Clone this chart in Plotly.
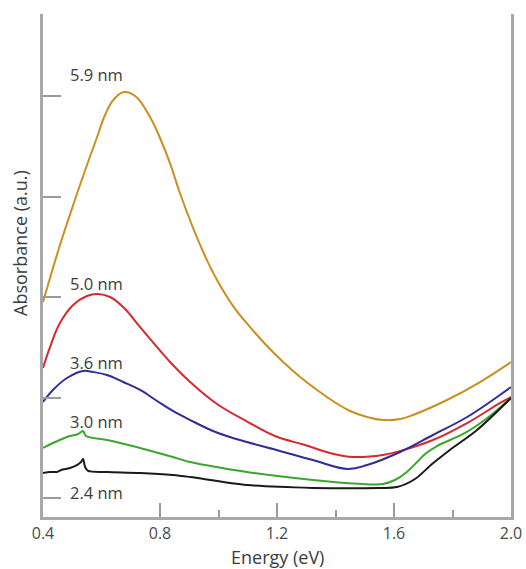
import plotly.graph_objects as go

# ---- data ----
E_59 = [0.400, 0.414, 0.458, 0.509, 0.554, 0.585, 0.612, 0.643, 0.677, 0.715, 0.766, 0.800, 0.834, 0.868, 0.913,
        0.954, 0.995, 1.050, 1.108, 1.166, 1.221, 1.279, 1.337, 1.391, 1.450, 1.508, 1.562, 1.621, 1.665, 1.781,
        1.894, 2.000]
A_59 = [1.950, 2.090, 2.517, 2.965, 3.343, 3.592, 3.811, 3.970, 4.040, 4.000, 3.791, 3.582, 3.333, 3.035, 2.687,
        2.408, 2.169, 1.910, 1.701, 1.512, 1.353, 1.204, 1.075, 0.965, 0.866, 0.806, 0.776, 0.786, 0.826, 0.975,
        1.154, 1.353]

E_50 = [0.400, 0.424, 0.458, 0.503, 0.550, 0.588, 0.629, 0.674, 0.732, 0.790, 0.844, 0.903, 0.995, 1.101, 1.193,
        1.296, 1.381, 1.460, 1.562, 1.621, 1.733, 1.850, 1.962, 2.000]
A_50 = [1.294, 1.502, 1.741, 1.920, 2.010, 2.030, 2.000, 1.900, 1.701, 1.502, 1.323, 1.154, 0.935, 0.756, 0.617,
        0.527, 0.448, 0.408, 0.428, 0.468, 0.577, 0.746, 0.945, 1.005]

E_36 = [0.400, 0.434, 0.482, 0.537, 0.571, 0.619, 0.674, 0.732, 0.790, 0.844, 0.903, 0.981, 1.039, 1.097, 1.210,
        1.323, 1.443, 1.508, 1.621, 1.733, 1.850, 1.962, 2.000]
A_36 = [0.955, 1.075, 1.194, 1.264, 1.254, 1.224, 1.154, 1.075, 0.965, 0.866, 0.776, 0.667, 0.607, 0.557, 0.468,
        0.378, 0.289, 0.328, 0.458, 0.627, 0.806, 1.025, 1.104]

E_30 = [0.400, 0.434, 0.482, 0.520, 0.537, 0.547, 0.619, 0.732, 0.844, 0.903, 1.097, 1.323, 1.494, 1.562, 1.603,
        1.644, 1.679, 1.706, 1.747, 1.843, 1.928, 2.000]
A_30 = [0.498, 0.547, 0.607, 0.637, 0.667, 0.617, 0.577, 0.498, 0.408, 0.358, 0.259, 0.179, 0.139, 0.139, 0.179,
        0.259, 0.358, 0.438, 0.517, 0.647, 0.816, 0.995]

E_24 = [0.400, 0.424, 0.448, 0.462, 0.492, 0.516, 0.530, 0.537, 0.544, 0.554, 0.619, 0.732, 0.844, 0.903, 1.097,
        1.323, 1.552, 1.610, 1.672, 1.730, 1.791, 1.884, 2.000]
A_24 = [0.249, 0.259, 0.259, 0.279, 0.299, 0.328, 0.358, 0.388, 0.308, 0.269, 0.259, 0.249, 0.229, 0.209, 0.129,
        0.100, 0.100, 0.109, 0.189, 0.338, 0.478, 0.677, 0.995]

series = [
    ("5.9 nm", E_59, A_59, "#C8911F", 1.2),
    ("5.0 nm", E_50, A_50, "#D42A30", 1.2),
    ("3.6 nm", E_36, A_36, "#2F2E99", 1.1),
    ("3.0 nm", E_30, A_30, "#3CA52D", 0.8),
    ("2.4 nm", E_24, A_24, "#1A1A1A", 0.8),
]

# label anchors (energy, absorbance) - left edge of each label
label_E = [0.4855, 0.4855, 0.4855, 0.4855, 0.4855]
label_A = [4.219, 2.139, 1.353, 0.766, 0.050]

x_ticks = [0.4, 0.8, 1.2, 1.6, 2.0]
x_labels = ["0.4", "0.8", "1.2", "1.6", "2.0"]
x_minor = [1.0, 1.4, 1.8]
y_ticks = [0, 1, 2, 3, 4]

FONT = "Open Sans, sans-serif"
TXT = "#3c3c3c"

fig = go.Figure()
for name, xs, ys, col, sm in series:
    fig.add_trace(go.Scatter(x=xs, y=ys, mode="lines", name=name,
                             line=dict(color=col, width=2, shape="spline", smoothing=sm),
                             hoverinfo="skip"))

for (name, *_), lx, ly in zip(series, label_E, label_A):
    fig.add_annotation(x=lx, y=ly, text=name, showarrow=False, xanchor="left", yanchor="middle",
                       font=dict(family=FONT, size=16.5, color=TXT))

fig.add_annotation(x=0.5, y=-0.0795, xref="paper", yref="paper", text="Energy (eV)", showarrow=False,
                   xanchor="center", yanchor="middle",
                   font=dict(family=FONT, size=18, color=TXT))
fig.add_annotation(x=-0.049, y=0.545, xref="paper", yref="paper", text="Absorbance (a.u.)", showarrow=False,
                   textangle=-90, xanchor="center", yanchor="middle",
                   font=dict(family=FONT, size=18, color=TXT))

fig.update_layout(
    width=526, height=569,
    margin=dict(l=43, r=15, t=14, b=52, autoexpand=False),
    paper_bgcolor="white", plot_bgcolor="white",
    showlegend=False,
    xaxis=dict(range=[0.4, 2.0], tickvals=x_ticks, ticktext=x_labels, automargin=False,
               ticks="inside", ticklen=14, tickwidth=1.5, tickcolor="#9a9a9a",
               minor=dict(tickvals=x_minor, ticks="inside", ticklen=7, tickwidth=1.5, tickcolor="#9a9a9a"),
               showline=True, linecolor="#a8a8a8", linewidth=2.5, showgrid=False, zeroline=False,
               tickfont=dict(family=FONT, size=16, color="#4a4a4a")),
    yaxis=dict(range=[-0.189, 4.816], tickvals=y_ticks, showticklabels=False, automargin=False,
               ticks="inside", ticklen=18, tickwidth=1.5, tickcolor="#9a9a9a",
               showline=True, mirror=True, linecolor="#a8a8a8", linewidth=2.5,
               showgrid=False, zeroline=False),
)

fig.write_html("out.html", config={"displayModeBar": False},
               post_script="document.body.style.margin='0';document.body.style.overflow='hidden';")
